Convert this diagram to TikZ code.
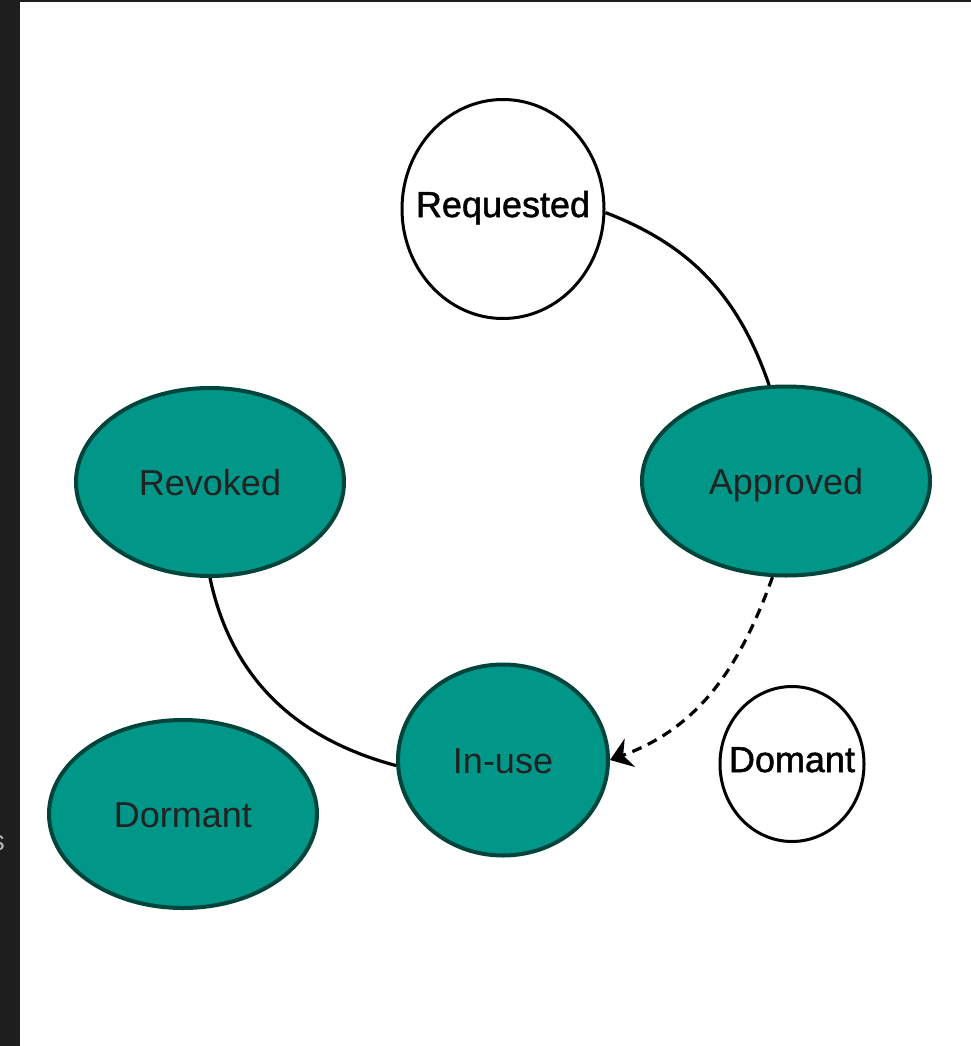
\documentclass[tikz,border=0pt]{standalone}
\usepackage{fontspec}
\setmainfont{Liberation Sans}
\newfontfamily\heavyface[FakeBold=1.4]{Liberation Sans}
\usetikzlibrary{arrows.meta,shapes.geometric}
\definecolor{tealfill}{RGB}{0,150,136}
\definecolor{tealedge}{RGB}{0,69,60}
\definecolor{labelgray}{RGB}{34,34,34}
\definecolor{framebar}{RGB}{30,30,30}

\begin{document}
\begin{tikzpicture}[x=1pt,y=-1pt,
  state/.style={ellipse, inner sep=0pt, text height=26pt, text depth=0pt},
  active/.style={state, fill=tealfill, draw=tealedge, line width=4pt,
    text=labelgray, font=\fontsize{36}{40}\selectfont},
  passive/.style={state, fill=white, draw=black, line width=3pt, inner xsep=-22pt,
    text=black, text depth=10pt, font=\heavyface\fontsize{36}{40}\selectfont},
  link/.style={line width=3.2pt, black},
]
% page and window frame
\useasboundingbox (0,0) rectangle (971,1046);
\fill[white] (0,0) rectangle (971,1046);
\fill[framebar] (0,0) rectangle (20,1046);
\fill[framebar] (0,0) rectangle (971,2);
\node[font=\fontsize{28}{30}\selectfont, text=gray!60, anchor=base east, inner sep=0pt] (scrap) at (5,850) {s};

% states
\node[passive, minimum width=202, minimum height=219] (req) at (503,209) {Requested};
\node[active, minimum width=288, minimum height=189] (app) at (786,481) {Approved};
\node[active, minimum width=268, minimum height=188] (rev) at (210,482) {Revoked};
\node[active, minimum width=210, minimum height=191] (use) at (503,760) {In-use};
\node[active, minimum width=268, minimum height=188] (dor) at (183,814) {Dormant};
\node[passive, minimum width=144, minimum height=155] (dom) at (792,764) {Domant};

% transitions
\draw[link] (req.-2) to[out=-21, in=109] (app.100);
\draw[link] (rev.south) to[out=-78, in=165] (use.183);
\draw[link, dash pattern=on 10pt off 7pt,
  -{Stealth[length=21pt,width=30pt,inset=7pt]}] (app.262) to[out=250, in=20] (use.0);
\end{tikzpicture}
\end{document}
